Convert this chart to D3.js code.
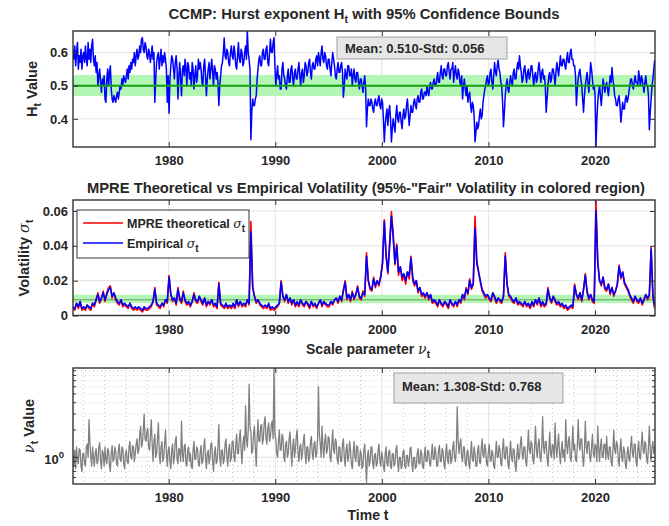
<!DOCTYPE html>
<html>
<head>
<meta charset="utf-8">
<script src="https://cdn.jsdelivr.net/npm/d3@7"></script>
<style>
  body { margin: 0; background: #fff; }
  svg { display: block; }
  text { font-family: "Liberation Sans", Arial, Helvetica, sans-serif; font-weight: bold; fill: #262626; }
</style>
</head>
<body>
<svg id="chart" width="669" height="526"></svg>
<script>
// ---- sampling period covered by every series (evenly spaced observations) ----
const tStart = 1971.02, tEnd = 2025.6;

// ---- Hurst exponent H_t (monthly) ----
const hurst = [
  .61,.58,.62,.56,.60,.63,.55,.59,.57,.61,.55,.59,
  .60,.57,.62,.58,.56,.63,.58,.61,.57,.62,.64,.58,
  .56,.59,.54,.57,.50,.53,.55,.51,.48,.52,.50,.53,
  .46,.45,.52,.55,.50,.54,.56,.49,.46,.45,.47,.46,
  .45,.47,.48,.46,.48,.50,.49,.52,.50,.53,.52,.51,
  .53,.55,.52,.56,.54,.57,.55,.58,.57,.60,.56,.59,
  .61,.58,.59,.62,.60,.64,.645,.61,.60,.63,.62,.59,
  .58,.61,.60,.57,.59,.62,.58,.60,.45,.52,.57,.59,
  .60,.55,.58,.61,.56,.59,.57,.60,.58,.55,.45,.53,
  .417,.52,.56,.59,.58,.55,.52,.57,.59,.55,.46,.53,
  .57,.52,.47,.55,.56,.53,.58,.55,.50,.57,.56,.52,
  .54,.50,.57,.55,.49,.53,.56,.51,.53,.58,.55,.57,
  .55,.51,.50,.56,.58,.53,.47,.52,.55,.57,.52,.55,
  .58,.54,.50,.56,.55,.52,.54,.51,.44,.50,.53,.56,
  .57,.60,.644,.59,.58,.61,.60,.57,.56,.60,.62,.59,
  .58,.62,.60,.56,.55,.59,.63,.58,.57,.61,.60,.56,
  .57,.60,.62,.58,.665,.60,.58,.55,.337,.42,.46,.44,
  .44,.46,.47,.52,.55,.58,.59,.56,.56,.60,.61,.58,
  .58,.61,.62,.57,.56,.60,.64,.60,.60,.63,.645,.56,
  .50,.53,.56,.52,.53,.49,.49,.55,.57,.53,.52,.50,
  .49,.53,.55,.51,.51,.55,.56,.52,.50,.54,.55,.52,
  .52,.55,.57,.53,.50,.54,.55,.51,.53,.57,.56,.53,
  .54,.57,.58,.54,.52,.56,.57,.55,.55,.58,.59,.56,
  .60,.58,.56,.60,.62,.58,.57,.60,.59,.56,.55,.58,
  .58,.55,.53,.57,.60,.58,.56,.53,.52,.55,.57,.54,
  .54,.56,.57,.54,.465,.50,.55,.53,.52,.56,.56,.53,
  .53,.55,.50,.53,.55,.52,.51,.54,.54,.51,.49,.52,
  .52,.50,.48,.51,.53,.49,.376,.43,.46,.44,.44,.46,
  .45,.43,.42,.45,.46,.44,.44,.46,.47,.44,.43,.46,
  .45,.40,.33,.38,.41,.43,.38,.42,.44,.40,.33,.37,
  .40,.38,.36,.41,.44,.40,.39,.42,.42,.39,.37,.41,
  .43,.40,.41,.44,.46,.42,.38,.41,.44,.42,.42,.45,
  .46,.44,.43,.46,.47,.45,.45,.48,.49,.46,.46,.48,
  .48,.47,.50,.48,.47,.50,.51,.49,.49,.51,.52,.50,
  .50,.52,.54,.51,.51,.54,.56,.53,.52,.55,.55,.53,
  .53,.56,.57,.54,.52,.55,.55,.57,.51,.54,.56,.53,
  .52,.55,.54,.51,.50,.53,.46,.50,.52,.49,.47,.50,
  .45,.47,.48,.44,.42,.45,.44,.41,.331,.36,.39,.37,
  .38,.41,.43,.40,.41,.45,.47,.49,.50,.52,.53,.50,
  .51,.54,.55,.51,.49,.53,.57,.54,.53,.56,.577,.55,
  .54,.51,.50,.45,.376,.42,.47,.50,.52,.49,.48,.51,
  .53,.51,.50,.54,.55,.52,.52,.55,.57,.55,.59,.56,
  .54,.51,.52,.55,.56,.53,.51,.54,.55,.52,.53,.56,
  .56,.53,.50,.53,.54,.51,.52,.55,.57,.54,.51,.54,
  .55,.52,.53,.50,.42,.46,.50,.53,.54,.51,.52,.55,
  .55,.53,.50,.54,.57,.55,.53,.56,.59,.56,.56,.58,
  .58,.56,.55,.58,.60,.57,.57,.60,.61,.58,.58,.56,
  .56,.53,.44,.49,.52,.54,.55,.52,.50,.46,.42,.47,
  .50,.52,.54,.51,.48,.52,.57,.55,.52,.49,.50,.47,
  .315,.40,.45,.48,.50,.47,.44,.48,.52,.50,.48,.50,
  .51,.49,.47,.50,.53,.51,.555,.52,.50,.47,.46,.44,
  .44,.46,.47,.44,.39,.42,.45,.43,.43,.46,.47,.45,
  .46,.48,.50,.52,.52,.50,.49,.51,.53,.51,.51,.50,
  .545,.52,.50,.53,.52,.50,.48,.51,.53,.50,.50,.47,
  .367,.42,.46,.50,.52,.55,.577
];
const hurstMid = 0.5;
const hurstBand = [0.469, 0.532];

// ---- volatility (two-monthly): empirical and MPRE theoretical sigma_t ----
const volEmpirical = [
  .005,.004,.007,.005,.008,.004, .005,.004,.006,.005,.004,.007,
  .006,.009,.012,.008,.010,.013, .009,.012,.015,.016,.011,.013,
  .010,.008,.007,.009,.006,.007, .006,.005,.007,.005,.004,.005,
  .004,.005,.004,.003,.005,.004, .004,.005,.006,.008,.015,.007,
  .006,.005,.007,.006,.009,.008, .022,.012,.009,.010,.007,.015,
  .010,.008,.013,.009,.007,.008, .006,.008,.012,.009,.008,.011,
  .009,.007,.010,.006,.008,.007, .009,.006,.007,.005,.018,.007,
  .006,.005,.007,.005,.006,.005, .007,.005,.009,.006,.008,.006,
  .007,.006,.009,.007,.048,.016, .011,.008,.009,.007,.006,.005,
  .006,.005,.007,.004,.005,.004, .005,.006,.007,.019,.011,.009,
  .012,.008,.010,.007,.009,.006, .008,.006,.009,.007,.006,.008,
  .007,.005,.008,.006,.007,.005, .007,.009,.006,.008,.007,.006,
  .006,.008,.007,.009,.010,.008, .011,.009,.014,.019,.010,.012,
  .009,.013,.010,.012,.016,.011, .010,.013,.012,.034,.020,.016,
  .015,.021,.017,.020,.018,.022, .030,.054,.035,.025,.040,.057,
  .045,.030,.040,.025,.028,.022, .024,.020,.025,.023,.033,.022,
  .018,.020,.014,.016,.012,.013, .011,.013,.010,.012,.008,.009,
  .008,.006,.009,.007,.006,.008, .007,.005,.009,.007,.006,.008,
  .006,.009,.008,.012,.010,.015, .013,.020,.016,.018,.050,.030,
  .025,.020,.015,.013,.011,.012, .010,.009,.013,.011,.008,.010,
  .009,.008,.011,.034,.018,.012, .011,.009,.008,.010,.007,.008,
  .007,.006,.008,.006,.007,.005, .008,.006,.009,.007,.010,.006,
  .008,.006,.007,.015,.010,.008, .011,.009,.007,.008,.006,.007,
  .005,.006,.004,.005,.006,.005, .017,.012,.010,.013,.009,.015,
  .023,.014,.010,.012,.009,.008, .060,.030,.020,.018,.022,.016,
  .015,.018,.013,.016,.012,.014, .018,.028,.022,.025,.019,.017,
  .015,.012,.010,.008,.011,.009, .008,.010,.007,.009,.012,.010,
  .012,.038,.012,.005
];
const volTheoretical = [
  .004,.003,.007,.004,.008,.003, .004,.003,.006,.004,.003,.007,
  .005,.009,.013,.007,.010,.014, .008,.013,.016,.017,.010,.013,
  .009,.007,.006,.009,.005,.006, .005,.004,.007,.004,.003,.004,
  .003,.004,.003,.002,.004,.003, .003,.004,.005,.008,.016,.006,
  .005,.004,.007,.005,.009,.007, .023,.012,.008,.010,.006,.016,
  .009,.007,.014,.008,.006,.007, .005,.008,.013,.008,.007,.011,
  .008,.006,.010,.005,.008,.006, .009,.005,.006,.004,.019,.006,
  .005,.004,.006,.004,.005,.004, .006,.004,.009,.005,.008,.005,
  .006,.005,.009,.006,.054,.017, .011,.007,.009,.006,.005,.004,
  .005,.004,.006,.003,.004,.003, .004,.005,.007,.020,.011,.008,
  .012,.007,.010,.006,.009,.005, .007,.005,.009,.006,.005,.008,
  .006,.004,.008,.005,.006,.004, .007,.009,.005,.008,.006,.005,
  .005,.008,.006,.009,.010,.007, .011,.008,.015,.020,.009,.012,
  .008,.014,.009,.012,.017,.010, .009,.014,.011,.036,.020,.015,
  .014,.022,.016,.020,.017,.023, .030,.055,.034,.024,.042,.0596,
  .047,.029,.041,.023,.028,.020, .023,.018,.025,.021,.034,.020,
  .017,.020,.013,.016,.011,.012, .010,.013,.009,.012,.007,.008,
  .007,.005,.009,.006,.005,.008, .006,.004,.009,.006,.005,.008,
  .005,.009,.007,.012,.009,.016, .012,.021,.015,.018,.057,.031,
  .025,.019,.014,.012,.010,.012, .009,.008,.013,.010,.007,.010,
  .008,.007,.011,.036,.018,.011, .010,.008,.007,.010,.006,.007,
  .006,.005,.008,.005,.006,.004, .007,.005,.009,.006,.010,.005,
  .007,.005,.006,.016,.010,.007, .011,.008,.006,.007,.005,.006,
  .004,.005,.003,.004,.005,.004, .018,.012,.009,.013,.008,.015,
  .024,.013,.009,.012,.008,.007, .066,.031,.020,.017,.022,.015,
  .014,.018,.012,.016,.011,.014, .018,.029,.021,.025,.018,.016,
  .014,.011,.009,.007,.011,.008, .007,.010,.006,.009,.012,.009,
  .011,.039,.011,.004
];
const volMid = 0.009;
const volBand = [0.0071, 0.0119];

// ---- scale parameter nu_t (monthly) ----
const nu = [
  1.05,0.8,1.2,0.75,1.3,0.9,0.85,1.25,1.2,0.8,0.7,1.1,
  1.1,0.85,0.8,1.3,1.4,1.0,2.6,1.5,1.0,0.8,1.3,1.0,
  0.8,1.1,1.25,0.85,0.9,1.3,1.45,0.9,0.75,1.2,1.1,0.8,
  1.3,0.95,0.85,1.25,1.2,0.8,0.7,1.1,1.35,0.9,0.95,1.3,
  1.15,0.85,0.8,1.2,1.4,0.95,0.9,1.3,1.25,0.85,0.75,1.1,
  1.2,0.9,0.85,1.3,1.5,1.0,0.95,1.35,1.3,0.9,1.1,1.4,
  1.6,1.1,1.2,1.8,2.2,1.3,1.4,2.0,3.0,1.6,1.5,1.9,
  2.1,1.3,1.2,1.7,2.6,1.4,0.9,1.5,1.8,1.0,1.1,1.6,
  2.4,1.1,0.85,1.3,1.5,0.9,1.0,1.4,2.0,1.1,0.8,1.2,
  1.3,0.9,0.75,1.2,1.4,0.85,1.0,1.5,1.7,0.95,0.85,1.25,
  1.2,0.9,2.5,1.1,0.9,1.3,1.4,0.85,0.8,1.2,1.3,0.9,
  1.1,0.8,0.75,1.2,1.5,0.95,0.95,1.3,1.25,0.85,0.8,1.15,
  1.35,0.85,0.9,1.3,1.6,1.0,0.75,1.1,1.2,0.85,1.0,1.4,
  1.45,0.9,0.7,1.1,1.3,0.85,0.9,1.35,2.3,1.0,0.8,1.2,
  1.2,0.85,0.95,1.4,1.6,1.0,0.8,1.2,1.4,0.9,1.0,1.5,
  1.5,1.0,0.9,1.4,1.8,1.1,1.1,1.6,2.0,1.2,0.85,1.4,
  1.7,1.2,3.7,1.6,1.3,2.0,6.4,2.2,1.9,1.1,1.2,1.8,
  2.2,1.3,0.8,1.6,2.6,1.5,1.5,2.2,2.3,1.4,1.6,2.4,
  2.8,1.6,1.4,2.1,2.4,1.5,1.7,2.3,2.5,1.6,9.7,1.8,
  1.6,1.1,1.0,1.5,2.0,1.2,1.2,1.8,1.7,1.0,0.9,1.4,
  1.5,1.0,1.1,1.6,1.9,1.2,0.8,1.3,1.6,1.0,1.2,1.7,
  2.0,1.1,0.9,1.3,1.4,0.95,1.1,1.5,1.8,1.1,0.85,1.3,
  1.3,0.9,1.0,1.5,1.7,1.1,0.95,1.4,1.5,1.0,1.1,1.6,
  6.0,1.8,1.4,1.0,2.2,1.3,1.0,1.5,1.8,1.1,1.2,1.7,
  1.6,1.0,0.9,1.4,2.0,1.2,1.1,1.6,1.5,0.95,0.85,1.3,
  1.3,0.9,0.9,1.4,1.6,1.0,0.8,1.2,1.4,0.9,1.0,1.5,
  1.2,0.85,0.75,1.1,1.5,1.0,0.9,1.35,1.3,0.85,0.8,1.2,
  1.1,0.75,0.8,1.2,1.4,0.9,0.53,1.0,1.2,0.8,0.9,1.3,
  1.3,0.85,0.75,1.05,1.1,0.8,0.85,1.2,1.4,0.9,0.8,1.15,
  1.0,0.8,0.7,1.1,1.3,0.85,0.8,1.15,1.2,0.8,0.75,1.1,
  1.1,0.8,0.85,1.2,1.35,0.9,0.7,1.0,1.0,0.75,0.8,1.15,
  1.2,0.8,0.75,1.05,1.05,0.8,0.9,1.25,1.3,0.85,0.7,1.0,
  1.0,0.75,0.8,1.1,1.25,0.85,0.85,1.2,1.1,0.8,0.75,1.05,
  1.3,0.9,0.9,1.2,1.15,0.85,0.8,1.1,1.4,0.95,0.95,1.3,
  1.1,0.8,0.8,1.2,1.35,0.9,0.9,1.25,1.2,0.85,0.75,1.1,
  1.4,0.95,0.85,1.2,1.2,0.85,0.95,1.3,1.5,1.0,0.9,1.25,
  3.6,1.5,1.1,1.4,1.6,1.0,0.9,1.3,1.3,0.85,0.8,1.15,
  1.2,0.85,0.75,1.1,1.5,0.95,0.9,1.3,1.1,0.8,0.8,1.2,
  1.35,0.9,0.85,1.25,1.6,1.05,1.0,1.4,1.2,0.85,0.8,1.15,
  1.4,0.95,0.9,1.2,1.1,0.8,0.75,1.1,1.5,1.0,1.0,1.35,
  1.2,0.85,0.8,1.25,1.6,1.0,0.95,1.3,1.3,0.85,0.75,1.1,
  1.5,1.0,0.9,1.25,1.2,0.85,0.7,1.05,1.4,0.95,1.0,1.4,
  1.7,1.1,0.95,1.3,1.3,0.9,0.8,1.2,2.0,1.2,1.1,1.5,
  1.4,0.95,0.85,1.3,2.2,1.2,1.0,1.4,1.6,1.0,0.9,1.3,
  2.8,1.3,1.1,1.5,1.5,1.0,0.8,1.2,1.9,1.1,1.0,1.4,
  1.3,0.95,2.4,1.3,1.0,1.4,1.8,1.1,0.85,1.2,1.5,1.0,
  1.2,0.9,2.6,1.4,1.1,1.5,1.7,1.0,0.9,1.3,2.2,1.2,
  1.4,0.95,0.9,1.3,2.6,1.4,1.2,1.6,1.6,1.0,0.8,1.2,
  2.5,1.3,1.1,1.5,1.5,1.0,0.9,1.3,1.8,1.1,1.0,1.4,
  1.3,0.9,2.2,1.3,0.9,1.3,1.6,1.0,1.0,1.4,1.4,0.95,
  1.7,1.1,0.95,1.3,1.3,0.9,0.8,1.2,2.0,1.2,1.1,1.5,
  1.4,0.95,0.8,1.2,1.6,1.0,0.9,1.3,1.2,0.85,0.75,1.1,
  1.3,0.95,0.9,1.35,1.7,1.1,1.0,1.4,1.4,0.9,0.8,1.2,
  1.5,1.0,0.95,1.4,1.9,1.2,1.1,1.5,1.4,0.95,0.85,1.3,
  2.2,1.2,0.9,1.3,1.5,1.1,1.3
];

// ---- axis ticks and annotation text ----
const yearTicks = [1980, 1990, 2000, 2010, 2020];
const hurstTicks = [0.4, 0.5, 0.6];
const volTicks = [0, 0.02, 0.04, 0.06];
const hurstStats = "Mean: 0.510-Std: 0.056";
const nuStats = "Mean: 1.308-Std: 0.768";

// ---------------------------------------------------------------
const svg = d3.select("#chart");
const L = 73, R = 655;
const timesFor = arr => d3.range(arr.length).map(i => tStart + i * (tEnd - tStart) / (arr.length - 1));
const series = arr => { const t = timesFor(arr); return arr.map((v, i) => ({ t: t[i], v })); };
const x = d3.scaleLinear().domain([1971.02, 2025.63]).range([L, R]);

const GRID = "#e3e3e3", FRAME = "#333333", TICKLEN = 5;

function panel(id, top, bottom) {
  const g = svg.append("g");
  svg.append("clipPath").attr("id", id).append("rect")
    .attr("x", L).attr("y", top).attr("width", R - L).attr("height", bottom - top);
  return g;
}

function xAxes(g, top, bottom) {
  g.append("g").attr("transform", `translate(0,${bottom})`)
    .call(d3.axisBottom(x).tickValues(yearTicks).tickFormat(d3.format("d"))
      .tickSizeInner(-TICKLEN).tickSizeOuter(0).tickPadding(9))
    .call(a => { a.select(".domain").remove(); a.selectAll("line").attr("stroke", FRAME);
                 a.selectAll("text").attr("font-size", 13).attr("fill", "#262626"); });
  g.append("g").attr("transform", `translate(0,${top})`)
    .call(d3.axisTop(x).tickValues(yearTicks).tickFormat("")
      .tickSizeInner(-TICKLEN).tickSizeOuter(0))
    .call(a => { a.select(".domain").remove(); a.selectAll("line").attr("stroke", FRAME); });
}

function frame(g, top, bottom) {
  g.append("rect").attr("x", L).attr("y", top).attr("width", R - L).attr("height", bottom - top)
    .attr("fill", "none").attr("stroke", FRAME).attr("stroke-width", 1.4);
}

function vGrid(g, top, bottom) {
  g.append("g").selectAll("line").data(yearTicks).join("line")
    .attr("x1", d => x(d)).attr("x2", d => x(d)).attr("y1", top).attr("y2", bottom)
    .attr("stroke", GRID).attr("stroke-width", 1);
}

function statBox(g, x0, y0, w, h, txt, baseline) {
  g.append("rect").attr("x", x0).attr("y", y0).attr("width", w).attr("height", h)
    .attr("fill", "#e6e6e6").attr("stroke", "#a0a0a0").attr("stroke-width", 1);
  g.append("text").attr("x", x0 + 8).attr("y", baseline).attr("font-size", 13).text(txt);
}

// ======================= Panel 1: Hurst exponent =======================
{
  const top = 31, bottom = 147;
  const g = panel("clip1", top, bottom);
  const y = d3.scaleLinear().domain([0.315, 0.665]).range([bottom, top]);
  vGrid(g, top, bottom);
  g.append("g").selectAll("line").data(hurstTicks).join("line")
    .attr("x1", L).attr("x2", R).attr("y1", d => y(d)).attr("y2", d => y(d))
    .attr("stroke", GRID);
  g.append("rect").attr("x", L).attr("width", R - L)
    .attr("y", y(hurstBand[1])).attr("height", y(hurstBand[0]) - y(hurstBand[1]))
    .attr("fill", "#b3f5b3");
  g.append("path").datum(series(hurst)).attr("clip-path", "url(#clip1)")
    .attr("d", d3.line().x(d => x(d.t)).y(d => y(d.v)))
    .attr("fill", "none").attr("stroke", "#0000ff").attr("stroke-width", 1.5)
    .attr("stroke-linejoin", "round");
  g.append("line").attr("x1", L).attr("x2", R).attr("y1", y(hurstMid)).attr("y2", y(hurstMid))
    .attr("stroke", "#12a012").attr("stroke-width", 2);
  xAxes(g, top, bottom);
  g.append("g").attr("transform", `translate(${L},0)`)
    .call(d3.axisLeft(y).tickValues(hurstTicks).tickFormat(d3.format(".1f"))
      .tickSizeInner(-TICKLEN).tickSizeOuter(0).tickPadding(5))
    .call(a => { a.select(".domain").remove(); a.selectAll("line").attr("stroke", FRAME);
                 a.selectAll("text").attr("font-size", 13).attr("fill", "#262626"); });
  g.append("g").attr("transform", `translate(${R},0)`)
    .call(d3.axisRight(y).tickValues(hurstTicks).tickFormat("")
      .tickSizeInner(-TICKLEN).tickSizeOuter(0))
    .call(a => { a.select(".domain").remove(); a.selectAll("line").attr("stroke", FRAME); });
  frame(g, top, bottom);
  statBox(g, 337, 37, 170, 22, hurstStats, 53);

  const title = g.append("text").attr("x", 364).attr("y", 19).attr("text-anchor", "middle")
    .attr("font-size", 14).attr("textLength", 391).attr("lengthAdjust", "spacingAndGlyphs");
  title.append("tspan").text("CCMP: Hurst exponent H");
  title.append("tspan").attr("dy", 4).attr("font-size", 10).text("t");
  title.append("tspan").attr("dy", -4).text(" with 95% Confidence Bounds");

  const yl = g.append("text").attr("transform", `translate(37,89) rotate(-90)`)
    .attr("text-anchor", "middle").attr("font-size", 14.5);
  yl.append("tspan").text("H");
  yl.append("tspan").attr("dy", 4).attr("font-size", 10.5).text("t");
  yl.append("tspan").attr("dy", -4).text(" Value");
}

// ======================= Panel 2: volatility =======================
{
  const top = 200, bottom = 315.5;
  const g = panel("clip2", top, bottom);
  const y = d3.scaleLinear().domain([0, 0.0663]).range([bottom, top]);
  vGrid(g, top, bottom);
  g.append("g").selectAll("line").data(volTicks.slice(1)).join("line")
    .attr("x1", L).attr("x2", R).attr("y1", d => y(d)).attr("y2", d => y(d))
    .attr("stroke", GRID);
  g.append("rect").attr("x", L).attr("width", R - L)
    .attr("y", y(volBand[1])).attr("height", y(volBand[0]) - y(volBand[1]))
    .attr("fill", "#b3f5b3");
  g.append("line").attr("x1", L).attr("x2", R).attr("y1", y(volMid)).attr("y2", y(volMid))
    .attr("stroke", "#5f9a5f").attr("stroke-width", 1);
  const line = d3.line().x(d => x(d.t)).y(d => y(d.v));
  g.append("path").datum(series(volTheoretical))
    .attr("clip-path", "url(#clip2)").attr("d", line)
    .attr("fill", "none").attr("stroke", "#ff0000").attr("stroke-width", 1.6)
    .attr("stroke-linejoin", "round");
  g.append("path").datum(series(volEmpirical))
    .attr("clip-path", "url(#clip2)").attr("d", line)
    .attr("fill", "none").attr("stroke", "#0000ff").attr("stroke-width", 1.6)
    .attr("stroke-linejoin", "round");
  xAxes(g, top, bottom);
  g.append("g").attr("transform", `translate(${L},0)`)
    .call(d3.axisLeft(y).tickValues(volTicks).tickFormat(d => d === 0 ? "0" : d3.format(".2f")(d))
      .tickSizeInner(-TICKLEN).tickSizeOuter(0).tickPadding(5))
    .call(a => { a.select(".domain").remove(); a.selectAll("line").attr("stroke", FRAME);
                 a.selectAll("text").attr("font-size", 13).attr("fill", "#262626"); });
  g.append("g").attr("transform", `translate(${R},0)`)
    .call(d3.axisRight(y).tickValues(volTicks).tickFormat("")
      .tickSizeInner(-TICKLEN).tickSizeOuter(0))
    .call(a => { a.select(".domain").remove(); a.selectAll("line").attr("stroke", FRAME); });
  frame(g, top, bottom);

  // legend
  const lg = g.append("g");
  lg.append("rect").attr("x", 77).attr("y", 210).attr("width", 172).attr("height", 48)
    .attr("fill", "#fff").attr("stroke", FRAME).attr("stroke-width", 1);
  const items = [{ c: "#ff0000", a: "MPRE theoretical ", y: 223 }, { c: "#0000ff", a: "Empirical ", y: 243 }];
  items.forEach(it => {
    lg.append("line").attr("x1", 83).attr("x2", 123).attr("y1", it.y).attr("y2", it.y)
      .attr("stroke", it.c).attr("stroke-width", 1.6);
    const t = lg.append("text").attr("x", 127).attr("y", it.y + 4.5).attr("font-size", 12.5);
    t.append("tspan").text(it.a);
    t.append("tspan").attr("font-style", "italic").attr("font-weight", "normal")
      .attr("font-family", "DejaVu Serif, serif").text("σ");
    t.append("tspan").attr("dy", 4).attr("font-size", 10).text("t");
  });

  g.append("text").attr("x", 366).attr("y", 193).attr("text-anchor", "middle")
    .attr("font-size", 14).attr("textLength", 558).attr("lengthAdjust", "spacingAndGlyphs")
    .text("MPRE Theoretical vs Empirical Volatility (95%-\"Fair\" Volatility in colored region)");

  const yl = g.append("text").attr("transform", `translate(29,258) rotate(-90)`)
    .attr("text-anchor", "middle").attr("font-size", 14.5);
  yl.append("tspan").text("Volatility ");
  yl.append("tspan").attr("font-style", "italic").attr("font-weight", "normal")
    .attr("font-family", "DejaVu Serif, serif").text("σ");
  yl.append("tspan").attr("dy", 4).attr("font-size", 10.5).text("t");
}

// ======================= Panel 3: scale parameter =======================
{
  const top = 368, bottom = 484;
  const g = panel("clip3", top, bottom);
  const y = d3.scaleLog().domain([0.508, 9.66]).range([bottom, top]);
  const minorY = [0.6, 0.7, 0.8, 0.9, 2, 3, 4, 5, 6, 7, 8, 9];
  const minorX = d3.range(1972, 2026, 2).filter(v => v % 10 !== 0);
  // dotted minor grid
  g.append("g").selectAll("line").data(minorY).join("line")
    .attr("x1", L).attr("x2", R).attr("y1", d => y(d)).attr("y2", d => y(d))
    .attr("stroke", "#c8c8c8").attr("stroke-dasharray", "1,3");
  g.append("g").selectAll("line").data(minorX).join("line")
    .attr("x1", d => x(d)).attr("x2", d => x(d)).attr("y1", top).attr("y2", bottom)
    .attr("stroke", "#c8c8c8").attr("stroke-dasharray", "1,3");
  vGrid(g, top, bottom);
  g.append("line").attr("x1", L).attr("x2", R).attr("y1", y(1)).attr("y2", y(1)).attr("stroke", GRID);

  g.append("path").datum(series(nu))
    .attr("clip-path", "url(#clip3)")
    .attr("d", d3.line().x(d => x(d.t)).y(d => y(d.v)))
    .attr("fill", "none").attr("stroke", "#808080").attr("stroke-width", 1.3)
    .attr("stroke-linejoin", "round");

  xAxes(g, top, bottom);
  // log-axis ticks on both sides
  [[L, 1], [R, -1]].forEach(([x0, s]) => {
    g.append("g").selectAll("line").data(minorY).join("line")
      .attr("x1", x0).attr("x2", x0 + s * 3).attr("y1", d => y(d)).attr("y2", d => y(d))
      .attr("stroke", FRAME);
    g.append("line").attr("x1", x0).attr("x2", x0 + s * TICKLEN).attr("y1", y(1)).attr("y2", y(1))
      .attr("stroke", FRAME);
  });
  const lab = g.append("text").attr("x", 64).attr("y", y(1) + 6.5).attr("text-anchor", "end")
    .attr("font-size", 13);
  lab.append("tspan").text("10");
  lab.append("tspan").attr("dy", -6).attr("font-size", 9.5).text("0");
  frame(g, top, bottom);
  statBox(g, 394, 373, 169, 30, nuStats, 391);

  const title = g.append("text").attr("x", 368).attr("y", 354).attr("text-anchor", "middle")
    .attr("font-size", 14);
  title.append("tspan").text("Scale parameter ");
  title.append("tspan").attr("font-style", "italic").attr("font-weight", "normal")
    .attr("font-family", "DejaVu Serif, serif").text("ν");
  title.append("tspan").attr("dy", 4).attr("font-size", 10).text("t");

  const yl = g.append("text").attr("transform", `translate(33.5,426) rotate(-90)`)
    .attr("text-anchor", "middle").attr("font-size", 14.5);
  yl.append("tspan").attr("font-style", "italic").attr("font-weight", "normal")
    .attr("font-family", "DejaVu Serif, serif").text("ν");
  yl.append("tspan").attr("dy", 4).attr("font-size", 10.5).text("t");
  yl.append("tspan").attr("dy", -4).text(" Value");

  g.append("text").attr("x", 368).attr("y", 520).attr("text-anchor", "middle")
    .attr("font-size", 14).text("Time t");
}
</script>
</body>
</html>
